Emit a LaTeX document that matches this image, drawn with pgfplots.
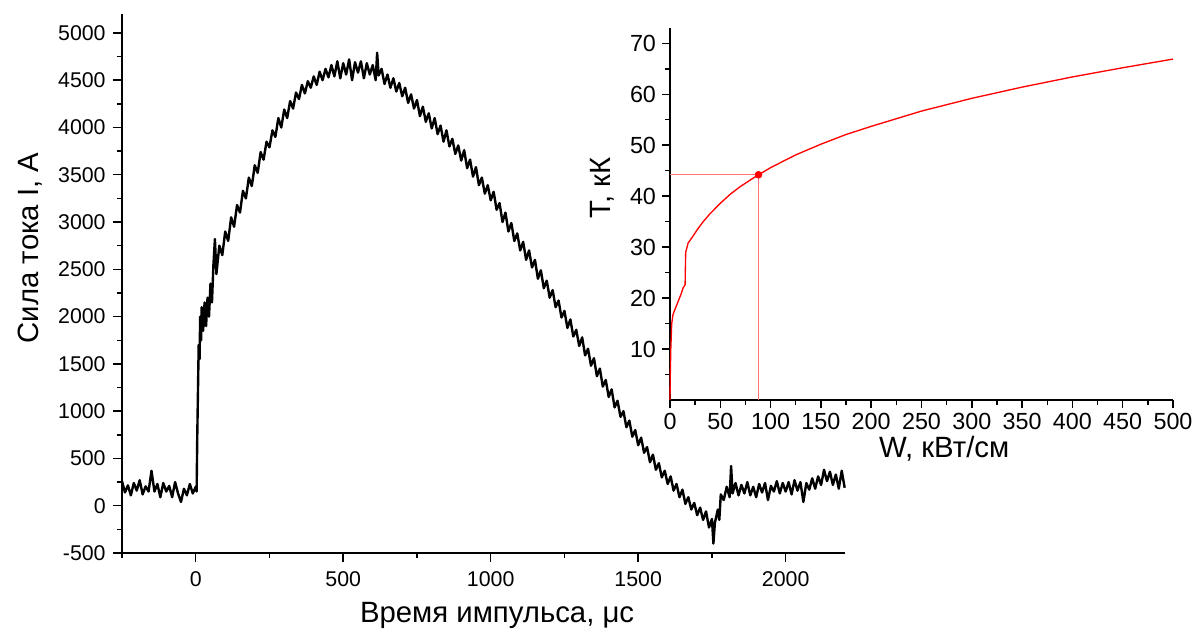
\documentclass[border=0pt]{standalone}
\usepackage{pgfplots}
\pgfplotsset{compat=1.18}
\usepackage{fontspec}
\setmainfont{Liberation Sans}

\pgfplotsset{
  common/.style={
    scale only axis,
    axis x line*=bottom, axis y line*=left,
    axis line style={-, line width=1.3pt},
    tick align=outside,
    every tick/.style={black, line width=1.1pt},
    /pgf/number format/assume math mode=true,
    /pgf/number format/set thousands separator={},
    clip=false,
  }
}

\begin{document}
\begin{tikzpicture}
% main plot: current pulse
\begin{axis}[common,
  at={(0pt,0pt)}, anchor=south west,
  width=542pt, height=404.25pt,
  xmin=-250, xmax=2200, ymin=-500, ymax=5200,
  xtick={0,500,1000,1500,2000},
  minor xtick={-250,250,750,1250,1750},
  ytick={-500,0,500,1000,1500,2000,2500,3000,3500,4000,4500,5000},
  minor ytick={-250,250,750,1250,1750,2250,2750,3250,3750,4250,4750},
  major tick length=6.75pt, minor tick length=3.75pt,
  xticklabel style={font=\fontsize{16}{18}\selectfont, yshift=-4pt},
  yticklabel style={font=\fontsize{16}{18}\selectfont, xshift=-2pt},
  xlabel={Время импульса, μс},
  ylabel={Сила тока I, А},
  every axis x label/.style={at={(axis description cs:0.519,-0.115)}, anchor=center, font=\fontsize{22}{26}\selectfont},
  every axis y label/.style={at={(axis description cs:-0.127,0.566)}, rotate=90, anchor=center, font=\fontsize{22}{26}\selectfont},
]
\addplot[black, line width=1.8pt, line join=round] coordinates {
(-250,260) (-240,140) (-230,215) (-220,110) (-210,240) (-200,160) (-190,270) (-180,120)
(-170,205) (-160,150) (-150,370) (-140,150) (-130,230) (-120,90) (-110,240) (-100,150)
(-90,210) (-80,90) (-70,250) (-60,130) (-50,40) (-40,180) (-30,110) (-20,230) (-10,130)
(0,200) (3,150) (5,700) (8,1300) (10,1700) (13,1550) (15,2000) (18,1750) (20,2100)
(25,1850) (30,2150) (35,1900) (40,2200) (45,2000) (50,2350) (55,2150) (60,2550)
(65,2820) (70,2450) (80,2750) (90,2650) (100,2900) (110,2800) (120,3050) (130,2950)
(140,3180) (150,3100) (160,3330) (170,3250) (180,3470) (190,3380) (200,3600) (210,3520)
(220,3740) (230,3660) (240,3850) (250,3790) (260,3970) (270,3900) (280,4100) (290,4000)
(300,4190) (310,4100) (320,4280) (330,4200) (340,4370) (350,4300) (360,4450) (370,4360)
(380,4490) (390,4420) (400,4540) (410,4450) (420,4590) (430,4500) (440,4620) (450,4530)
(460,4660) (470,4540) (480,4700) (490,4520) (500,4680) (510,4560) (520,4720) (530,4500)
(540,4690) (550,4580) (560,4700) (570,4520) (580,4680) (590,4560) (600,4660) (610,4500)
(615,4790) (620,4550) (630,4620) (640,4460) (650,4560) (660,4420) (670,4520) (680,4380)
(690,4470) (700,4330) (710,4420) (720,4260) (730,4350) (740,4200) (750,4290) (760,4120)
(770,4220) (780,4060) (790,4150) (800,3990) (810,4100) (820,3930) (830,4020) (840,3850)
(850,3970) (860,3800) (870,3880) (880,3720) (890,3810) (900,3650) (910,3760) (920,3570)
(930,3660) (940,3480) (950,3580) (960,3390) (970,3470) (980,3300) (990,3390) (1000,3230)
(1010,3320) (1020,3130) (1030,3200) (1040,3000) (1050,3100) (1060,2900) (1070,2990)
(1080,2800) (1090,2880) (1100,2700) (1110,2790) (1120,2600) (1130,2700) (1140,2520)
(1150,2600) (1160,2400) (1170,2490) (1180,2300) (1190,2380) (1200,2200) (1210,2280)
(1220,2100) (1230,2170) (1240,1990) (1250,2060) (1260,1880) (1270,1970) (1280,1790)
(1290,1860) (1300,1690) (1310,1780) (1320,1590) (1330,1660) (1340,1480) (1350,1560)
(1360,1370) (1370,1450) (1380,1260) (1390,1330) (1400,1150) (1410,1230) (1420,1040)
(1430,1110) (1440,940) (1450,1000) (1460,830) (1470,900) (1480,730) (1490,800)
(1500,640) (1510,720) (1520,560) (1530,620) (1540,460) (1550,540) (1560,380) (1570,450)
(1580,300) (1590,370) (1600,230) (1610,310) (1620,160) (1630,230) (1640,90) (1650,170)
(1660,20) (1670,90) (1680,-40) (1690,30) (1700,-100) (1710,-20) (1720,-150) (1730,-60)
(1740,-230) (1750,-140) (1755,-400) (1760,-180) (1770,-40) (1775,-150) (1780,120)
(1790,60) (1800,200) (1810,90) (1815,420) (1820,130) (1830,240) (1840,110) (1850,220)
(1860,130) (1870,250) (1880,110) (1890,200) (1900,90) (1910,230) (1920,140) (1930,240)
(1940,60) (1950,210) (1960,150) (1970,260) (1980,130) (1990,240) (2000,150) (2010,250)
(2020,120) (2030,270) (2040,160) (2050,250) (2060,40) (2070,240) (2080,170) (2090,290)
(2100,180) (2110,310) (2120,220) (2130,380) (2140,260) (2150,360) (2160,220) (2170,330)
(2180,180) (2190,370) (2200,190)
};
\end{axis}

% inset: temperature vs power
\begin{axis}[common,
  at={(411pt,114.75pt)}, anchor=south west,
  width=377.25pt, height=279pt,
  xmin=0, xmax=500, ymin=0, ymax=73,
  xtick={0,50,...,500},
  minor xtick={25,75,...,475},
  ytick={10,20,...,70},
  minor ytick={5,15,...,65},
  major tick length=6pt, minor tick length=3.75pt,
  xticklabel style={font=\fontsize{17.5}{19}\selectfont},
  yticklabel style={font=\fontsize{17.5}{19}\selectfont, xshift=-1pt},
  xlabel={W, кВт/см},
  ylabel={T, кК},
  every axis x label/.style={at={(axis description cs:0.545,-0.132)}, anchor=center, font=\fontsize{22}{26}\selectfont},
  every axis y label/.style={at={(axis description cs:-0.134,0.570)}, rotate=90, anchor=center, font=\fontsize{22}{26}\selectfont},
]
\addplot[red!55, line width=1pt] coordinates {(0,44.2) (88,44.2) (88,0)};
\addplot[red, line width=1pt, line join=round] coordinates {
(0,0) (0.3,5) (0.8,10) (1.7,15) (3,16.8) (5,17.8) (8,19.3) (11,20.8) (13,22) (15,22.6)
(15.3,26) (15.6,29) (18,30.8) (22,31.9) (27,33.4) (33,35.0) (40,36.6) (50,38.6)
(60,40.4) (70,41.9) (80,43.2) (88,44.2) (100,45.6) (125,48.1) (150,50.2) (175,52.1)
(200,53.7) (250,56.7) (300,59.2) (350,61.4) (400,63.4) (450,65.2) (500,66.9)
};
\addplot[only marks, mark=*, mark size=2.6pt, red] coordinates {(88,44.2)};
\end{axis}
\pgfresetboundingbox
\path (-91.5pt,-60pt) rectangle (807pt,414.75pt);
\end{tikzpicture}
\end{document}
